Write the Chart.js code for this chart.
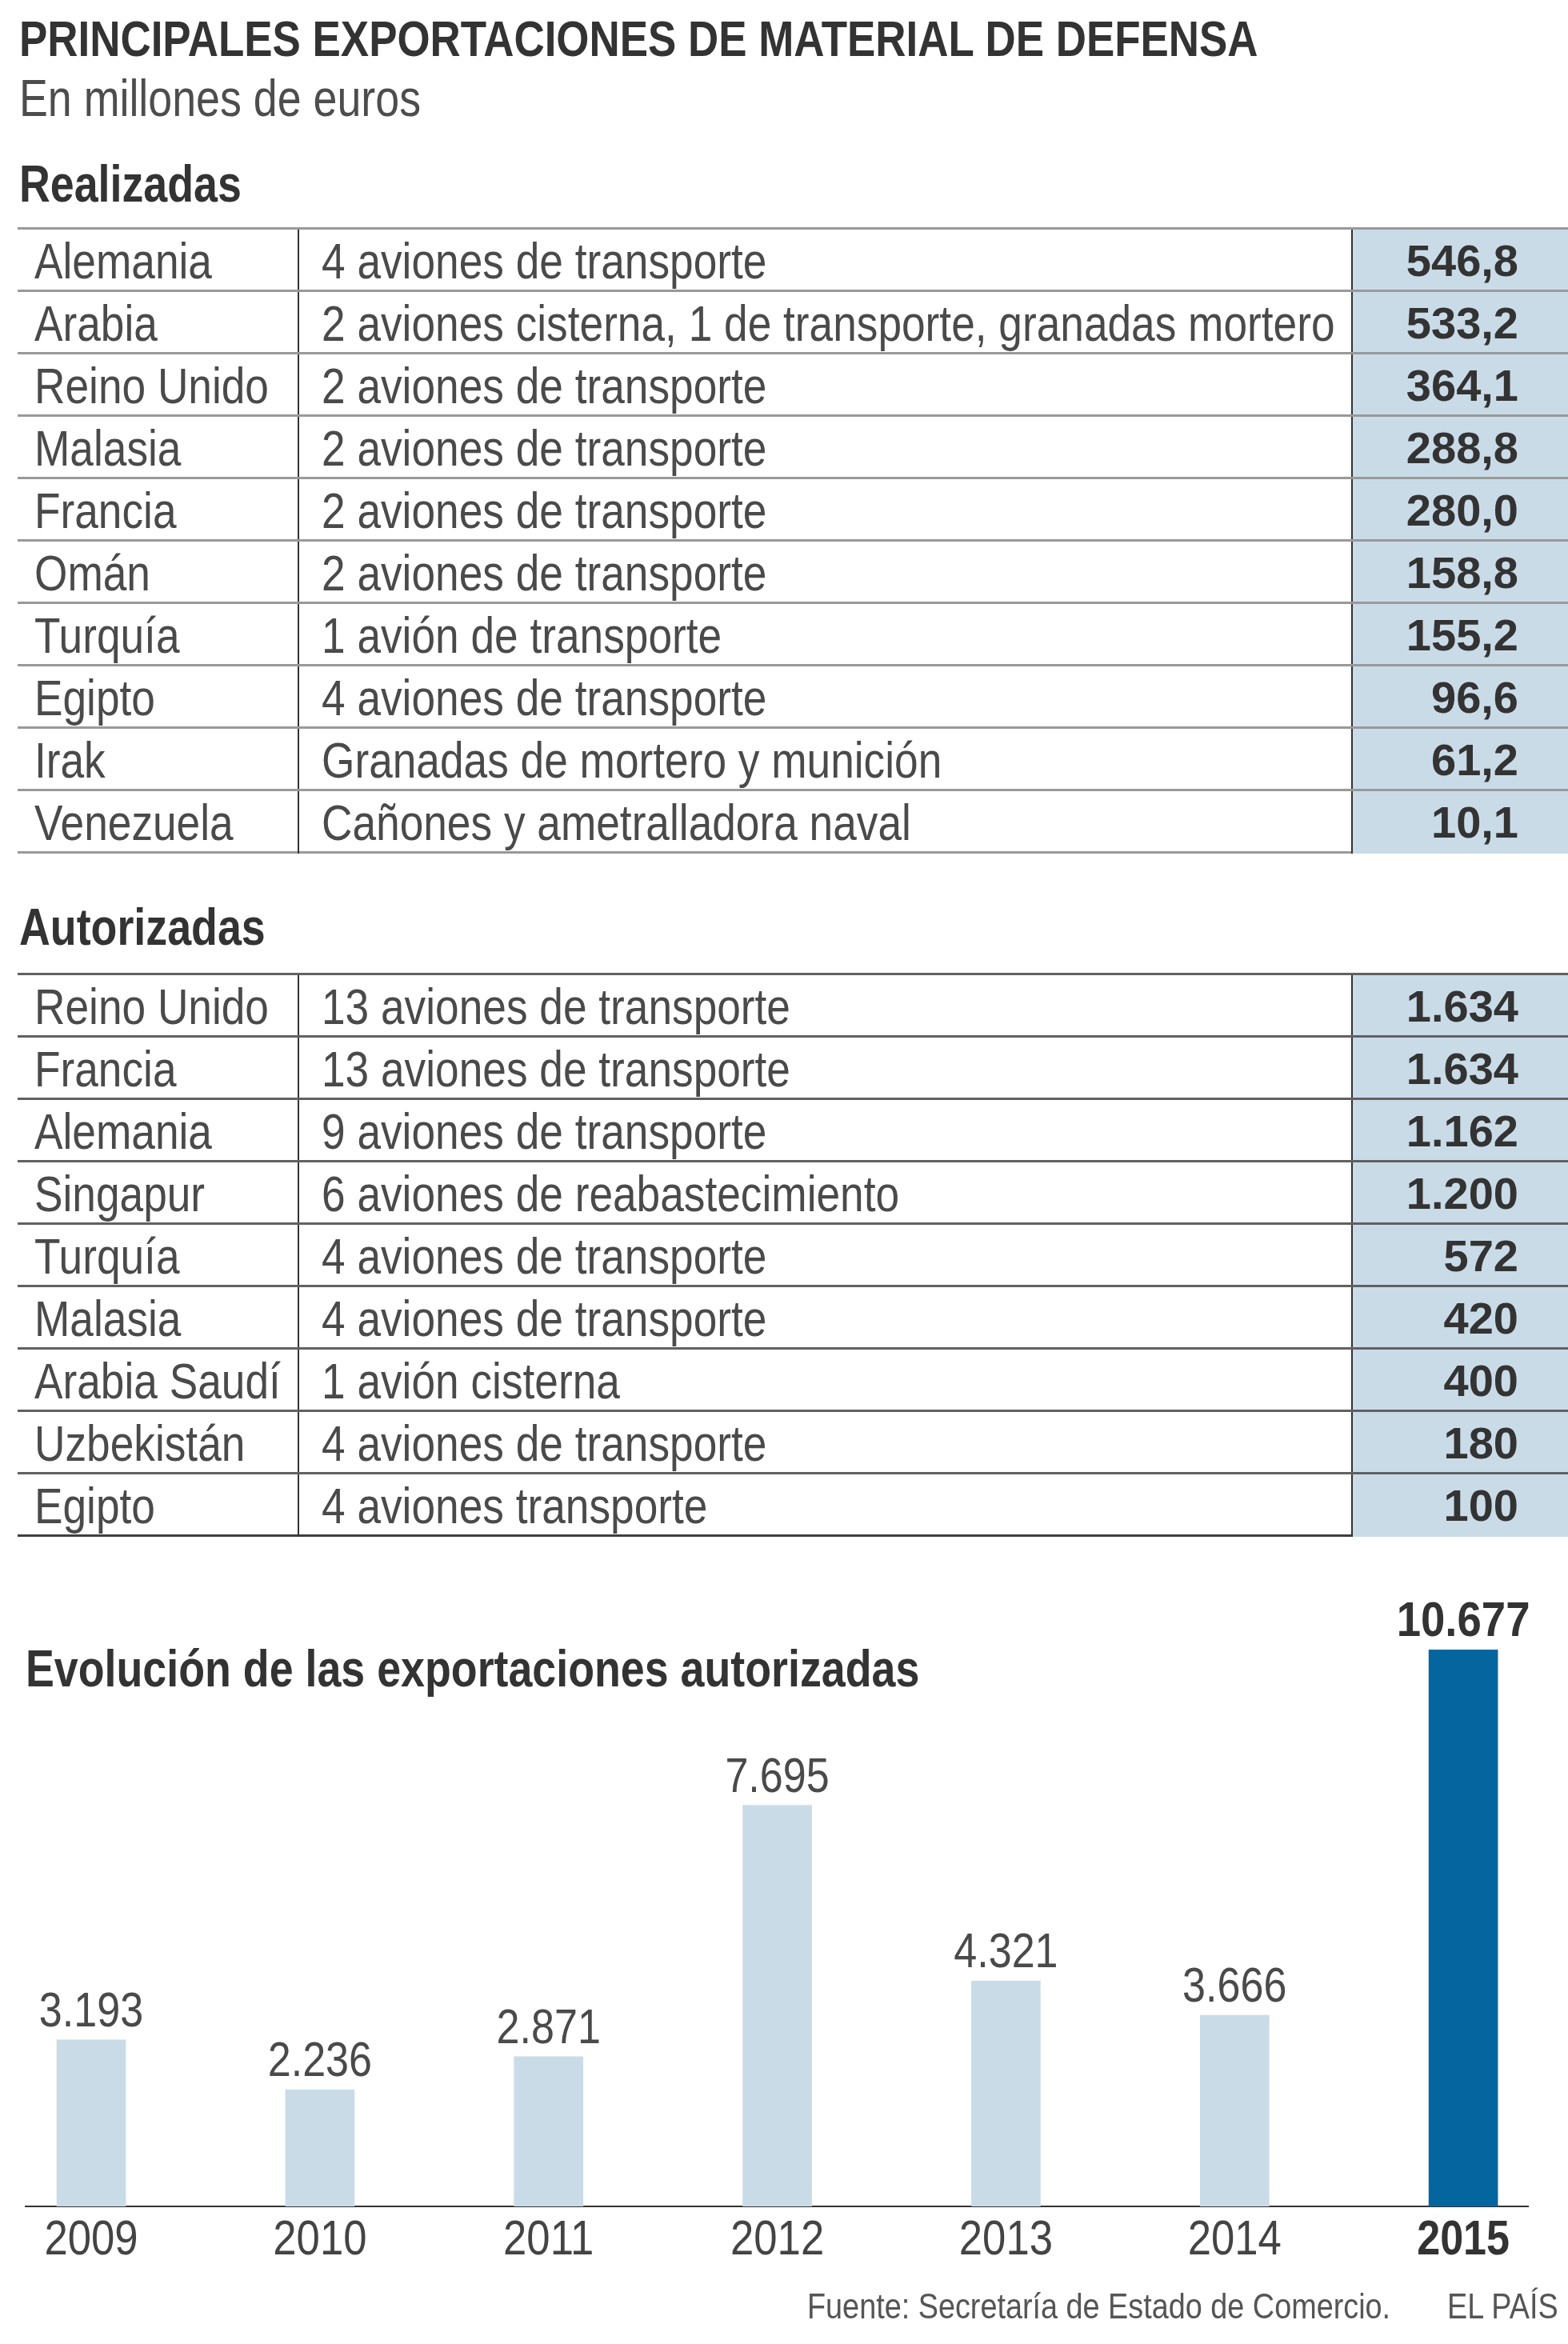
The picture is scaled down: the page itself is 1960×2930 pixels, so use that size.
<!DOCTYPE html>
<html lang="es">
<head>
<meta charset="utf-8">
<title>Principales exportaciones de material de defensa</title>
<script src="https://cdn.jsdelivr.net/npm/chart.js@4.4.1/dist/chart.umd.min.js"></script>
<style>
  html, body { margin: 0; padding: 0; background: #fff; }
  body { width: 1960px; height: 2930px; position: relative; overflow: hidden;
         font-family: "Liberation Sans", Arial, sans-serif; color: #333; }
  .txt { position: absolute; white-space: nowrap; line-height: 1; transform-origin: left top; transform: scaleX(0.84); }
  .titulo { left: 24px; top: 17px; font-size: 63px; font-weight: bold; color: #333; }
  .sub { left: 24px; top: 91px; font-size: 64px; color: #4d4d4d; }
  .seccion { left: 24px; font-size: 64px; font-weight: bold; color: #333; }
  .tabla { position: absolute; left: 22px; width: 1938px; }
  .fila { display: flex; height: 78px; box-sizing: border-box; border-top: 3px solid rgba(0,0,0,0.40); }
  .fila.ultima { height: 81px; border-bottom: 3px solid rgba(0,0,0,0.40); }
  .t2 .fila { border-top-color: rgba(0,0,0,0.62); }
  .t2 .fila.ultima { border-bottom-color: rgba(0,0,0,0.75); }
  .pais, .desc { box-sizing: border-box; font-size: 63px; line-height: 63px; color: #4a4a4a; white-space: nowrap; }
  .pais { width: 350px; padding: 8px 0 0 21px; }
  .desc { width: 1317px; padding: 8px 0 0 28px; border-left: 2px solid #333; }
  .pais span, .desc span { display: inline-block; transform-origin: left top; transform: scaleX(0.845); }
  .valor { width: 271px; box-sizing: border-box; padding: 11px 62px 0 0; text-align: right;
           font-weight: bold; font-size: 56px; line-height: 56px;
           border-left: 2px solid #333; background: #cadbe8; color: #333; }
  .fila.ultima .pais, .fila.ultima .desc, .fila.ultima .valor { margin-bottom: -3px; }
  #grafico { position: absolute; left: 0; top: 1950px; }
  .evol { left: 32px; top: 2054px; font-size: 64px; font-weight: bold; color: #333; z-index: 2; }
  .fuente { top: 2860px; font-size: 45px; color: #555; }
</style>
</head>
<body>
<div class="txt titulo">PRINCIPALES EXPORTACIONES DE MATERIAL DE DEFENSA</div>
<div class="txt sub">En millones de euros</div>
<div class="txt seccion" style="top:198px">Realizadas</div>
<div class="tabla" id="tablaRealizadas" style="top:284px"></div>
<div class="txt seccion" style="top:1127px">Autorizadas</div>
<div class="tabla t2" id="tablaAutorizadas" style="top:1216px"></div>

<canvas id="grafico" width="1960" height="980"></canvas>
<div class="txt evol">Evolución de las exportaciones autorizadas</div>
<div class="txt fuente" style="left:1009px">Fuente: Secretaría de Estado de Comercio.</div>
<div class="txt fuente" style="left:1809px">EL PAÍS</div>

<script>
// Exportaciones realizadas (millones de euros)
const paisesRealizadas = ['Alemania', 'Arabia', 'Reino Unido', 'Malasia', 'Francia', 'Omán', 'Turquía', 'Egipto', 'Irak', 'Venezuela'];
const materialRealizadas = [
  '4 aviones de transporte',
  '2 aviones cisterna, 1 de transporte, granadas mortero',
  '2 aviones de transporte',
  '2 aviones de transporte',
  '2 aviones de transporte',
  '2 aviones de transporte',
  '1 avión de transporte',
  '4 aviones de transporte',
  'Granadas de mortero y munición',
  'Cañones y ametralladora naval'
];
const valoresRealizadas = [546.8, 533.2, 364.1, 288.8, 280.0, 158.8, 155.2, 96.6, 61.2, 10.1];

// Exportaciones autorizadas
const paisesAutorizadas = ['Reino Unido', 'Francia', 'Alemania', 'Singapur', 'Turquía', 'Malasia', 'Arabia Saudí', 'Uzbekistán', 'Egipto'];
const materialAutorizadas = [
  '13 aviones de transporte',
  '13 aviones de transporte',
  '9 aviones de transporte',
  '6 aviones de reabastecimiento',
  '4 aviones de transporte',
  '4 aviones de transporte',
  '1 avión cisterna',
  '4 aviones de transporte',
  '4 aviones transporte'
];
const valoresAutorizadas = [1634, 1634, 1162, 1200, 572, 420, 400, 180, 100];

// Evolución de las exportaciones autorizadas
const anios = ['2009', '2010', '2011', '2012', '2013', '2014', '2015'];
const totales = [3193, 2236, 2871, 7695, 4321, 3666, 10677];
const anioDestacado = '2015';

const FUENTE = '"Liberation Sans", Arial, sans-serif';
const ESTRECHO = 0.84; // la tipografía original es condensada

function miles(n) {
  return String(n).replace(/\B(?=(\d{3})+(?!\d))/g, '.');
}
function decimal(n) {
  return n.toFixed(1).replace('.', ',');
}

function llenarTabla(id, paises, material, valores, formato) {
  const cont = document.getElementById(id);
  paises.forEach((p, i) => {
    const fila = document.createElement('div');
    fila.className = 'fila' + (i === paises.length - 1 ? ' ultima' : '');
    fila.innerHTML = '<div class="pais"><span></span></div><div class="desc"><span></span></div><div class="valor"></div>';
    fila.children[0].firstChild.textContent = p;
    fila.children[1].firstChild.textContent = material[i];
    fila.children[2].textContent = formato(valores[i]);
    cont.appendChild(fila);
  });
}
llenarTabla('tablaRealizadas', paisesRealizadas, materialRealizadas, valoresRealizadas, decimal);
llenarTabla('tablaAutorizadas', paisesAutorizadas, materialAutorizadas, valoresAutorizadas, miles);

const idxDestacado = anios.indexOf(anioDestacado);

function textoEstrecho(ctx, texto, x, y, escala) {
  ctx.save();
  ctx.translate(x, y);
  ctx.scale(escala, 1);
  ctx.fillText(texto, 0, 0);
  ctx.restore();
}

// valores encima de las barras y años bajo el eje
const etiquetasBarras = {
  id: 'etiquetasBarras',
  afterDatasetsDraw(chart) {
    const ctx = chart.ctx;
    const escalaX = chart.scales.x;
    const base = chart.chartArea.bottom;
    chart.getDatasetMeta(0).data.forEach((barra, i) => {
      const dest = i === idxDestacado;
      ctx.save();
      ctx.textAlign = 'center';
      ctx.textBaseline = 'alphabetic';
      ctx.fillStyle = dest ? '#333' : '#4a4a4a';
      ctx.font = (dest ? 'bold ' : '') + '62px ' + FUENTE;
      textoEstrecho(ctx, miles(totales[i]), barra.x, barra.y - 17, dest ? 0.88 : ESTRECHO);
      ctx.fillStyle = dest ? '#333' : '#444';
      textoEstrecho(ctx, anios[i], escalaX.getPixelForValue(i), base + 60, dest ? 0.84 : 0.85);
      ctx.restore();
    });
  }
};

new Chart(document.getElementById('grafico').getContext('2d'), {
  type: 'bar',
  data: {
    datasets: [{
      data: totales.map((v, i) => ({ x: i, y: v })),
      backgroundColor: (c) => c.dataIndex === idxDestacado ? '#05669f' : '#cadbe8',
      borderWidth: 0,
      barThickness: 86
    }]
  },
  options: {
    responsive: false,
    devicePixelRatio: 1,
    animation: false,
    layout: { padding: { left: 32, right: 50, top: 0, bottom: 0 } },
    plugins: { legend: { display: false }, tooltip: { enabled: false } },
    scales: {
      x: {
        type: 'linear',
        offset: false,
        min: -0.287,
        max: 6.283,
        grid: { display: false, drawTicks: false, offset: false },
        border: { display: true, color: '#333', width: 2 },
        ticks: { display: false },
        afterFit: (s) => { s.height = 172; }
      },
      y: {
        display: false,
        min: 0,
        max: 12400
      }
    }
  },
  plugins: [etiquetasBarras]
});
</script>
</body>
</html>
